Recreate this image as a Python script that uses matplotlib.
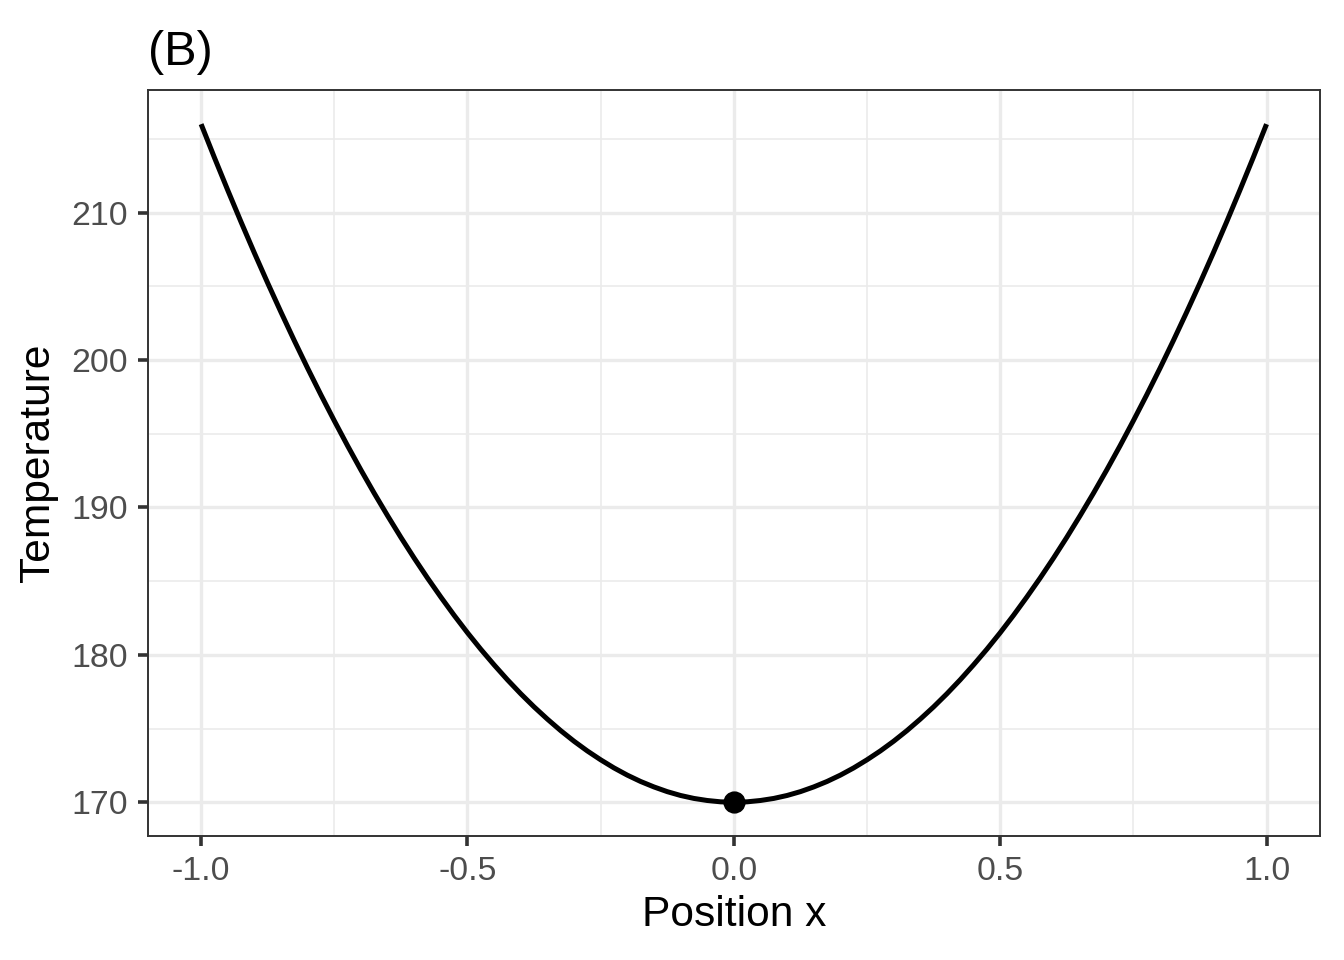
import matplotlib
matplotlib.use("Agg")
import matplotlib.pyplot as plt
from matplotlib.ticker import MultipleLocator

# temperature profile (step 0.025)
x = [-1.0, -0.975, -0.95, -0.925, -0.9, -0.875, -0.85, -0.825, -0.8, -0.775,
     -0.75, -0.725, -0.7, -0.675, -0.65, -0.625, -0.6, -0.575, -0.55, -0.525,
     -0.5, -0.475, -0.45, -0.425, -0.4, -0.375, -0.35, -0.325, -0.3, -0.275,
     -0.25, -0.225, -0.2, -0.175, -0.15, -0.125, -0.1, -0.075, -0.05, -0.025,
     0.0,
     0.025, 0.05, 0.075, 0.1, 0.125, 0.15, 0.175, 0.2, 0.225, 0.25,
     0.275, 0.3, 0.325, 0.35, 0.375, 0.4, 0.425, 0.45, 0.475, 0.5,
     0.525, 0.55, 0.575, 0.6, 0.625, 0.65, 0.675, 0.7, 0.725, 0.75,
     0.775, 0.8, 0.825, 0.85, 0.875, 0.9, 0.925, 0.95, 0.975, 1.0]
temp = [216.00, 213.73, 211.52, 209.36, 207.26, 205.22, 203.24, 201.31, 199.44, 197.63,
        195.88, 194.18, 192.54, 190.96, 189.44, 187.97, 186.56, 185.21, 183.92, 182.68,
        181.50, 180.38, 179.32, 178.31, 177.36, 176.47, 175.64, 174.86, 174.14, 173.48,
        172.88, 172.33, 171.84, 171.41, 171.04, 170.72, 170.46, 170.26, 170.12, 170.03,
        170.00,
        170.03, 170.12, 170.26, 170.46, 170.72, 171.04, 171.41, 171.84, 172.33, 172.88,
        173.48, 174.14, 174.86, 175.64, 176.47, 177.36, 178.31, 179.32, 180.38, 181.50,
        182.68, 183.92, 185.21, 186.56, 187.97, 189.44, 190.96, 192.54, 194.18, 195.88,
        197.63, 199.44, 201.31, 203.24, 205.22, 207.26, 209.36, 211.52, 213.73, 216.00]
min_x = [0.0]
min_t = [170.0]

plt.rcParams['font.family'] = ['Liberation Sans', 'DejaVu Sans']

fig = plt.figure(figsize=(6.72, 4.8), dpi=200)
ax = fig.add_axes([0.110, 0.129, 0.872, 0.777])

ax.plot(x, temp, color="black", lw=1.8, solid_capstyle="butt", zorder=3)
ax.plot(min_x, min_t, "o", color="black", ms=7, zorder=4)

ax.set_xlim(-1.1, 1.1)
ax.set_ylim(167.7, 218.3)
ax.xaxis.set_major_locator(MultipleLocator(0.5))
ax.xaxis.set_minor_locator(MultipleLocator(0.25))
ax.yaxis.set_major_locator(MultipleLocator(10))
ax.yaxis.set_minor_locator(MultipleLocator(5))
ax.set_xticks([-1.0, -0.5, 0.0, 0.5, 1.0])
ax.set_xticklabels(["-1.0", "-0.5", "0.0", "0.5", "1.0"])

ax.grid(which="major", color="#EBEBEB", lw=1.2)
ax.grid(which="minor", color="#EBEBEB", lw=0.6)
ax.set_axisbelow(True)

for s in ax.spines.values():
    s.set_color("#333333")
    s.set_linewidth(0.7)

ax.tick_params(which="major", length=3.6, width=1.3, color="#333333",
               labelsize=12.2, labelcolor="#4D4D4D", pad=3.5)
ax.tick_params(which="minor", length=0)

ax.set_xlabel("Position x", fontsize=15.3, labelpad=3)
ax.set_ylabel("Temperature", fontsize=15.3, labelpad=5)
ax.set_title("(B)", fontsize=17.5, loc="left", pad=9)

fig.savefig("out.png", dpi=200)
